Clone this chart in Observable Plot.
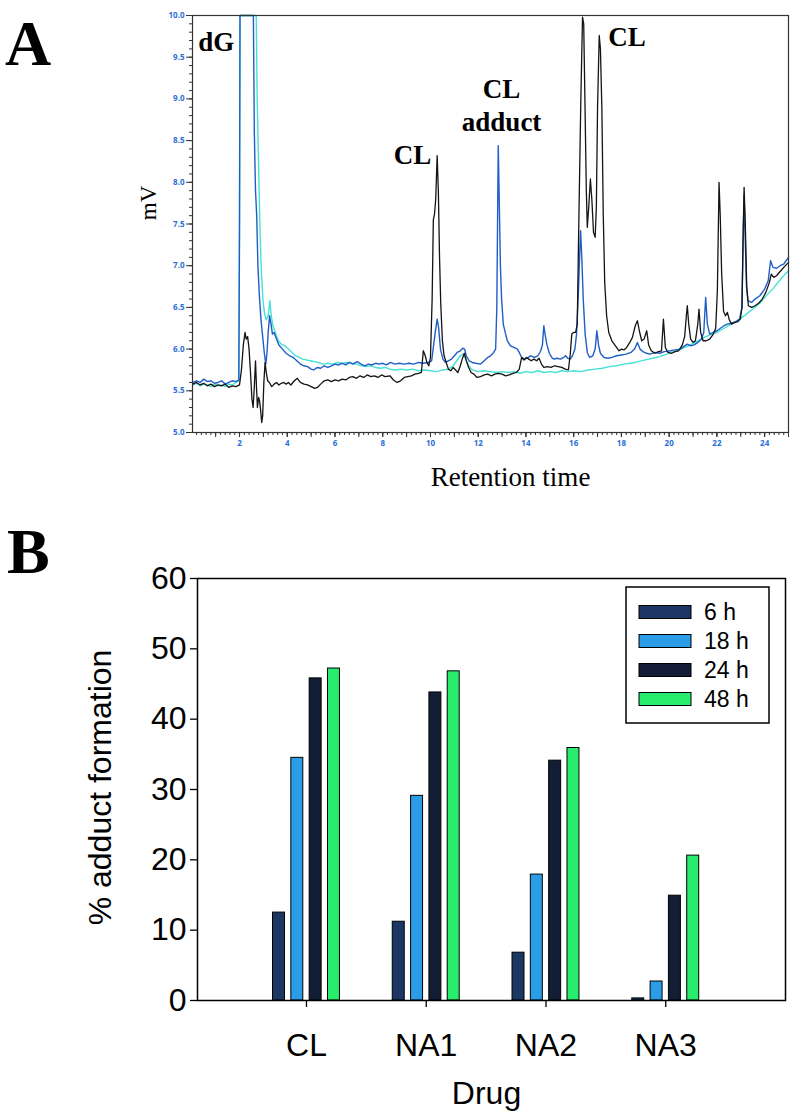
<!DOCTYPE html>
<html><head><meta charset="utf-8">
<script src="https://cdn.jsdelivr.net/npm/d3@7"></script>
<script src="https://cdn.jsdelivr.net/npm/@observablehq/plot@0.6"></script>
<style>
body{margin:0;background:#fff;width:796px;height:1114px;position:relative;overflow:hidden}
#a{position:absolute;left:0;top:0}
#b{position:absolute;left:0;top:500px}
#ov{position:absolute;left:0;top:0;pointer-events:none}
</style></head><body>
<div id="a"></div><div id="b"></div>
<script>
// ---------- Panel A: chromatogram traces [retention time (min), mV] ----------
const blackTrace = [[0.05,5.58],[0.2,5.6],[0.35,5.57],[0.5,5.59],[0.65,5.56],[0.8,5.58],[0.95,5.55],[1.1,5.57],[1.25,5.56],[1.4,5.58],[1.55,5.54],[1.7,5.56],[1.85,5.55],[2.0,5.57],
[2.08,5.75],[2.16,6.05],[2.23,6.2],[2.28,6.12],[2.34,6.15],[2.4,6.0],[2.46,5.72],[2.52,5.4],[2.57,5.3],[2.62,5.55],[2.67,5.86],[2.71,5.55],[2.75,5.3],[2.8,5.42],[2.84,5.38],[2.88,5.28],[2.93,5.12],[2.97,5.2],[3.02,5.6],[3.07,5.84],[3.12,5.72],[3.18,5.62],[3.25,5.6],[3.35,5.55],[3.45,5.58],[3.55,5.6],[3.65,5.57],[3.75,5.59],[3.85,5.6],[3.95,5.58],[4.05,5.6],[4.15,5.57],[4.3,5.62],[4.42,5.65],[4.55,5.6],[4.7,5.58],[4.85,5.57],[5.0,5.55],[5.15,5.53],[5.26,5.54],[5.4,5.58],[5.55,5.62],[5.7,5.63],[5.85,5.61],[6.0,5.63],[6.15,5.62],[6.3,5.64],[6.45,5.63],[6.6,5.66],[6.75,5.67],[6.9,5.65],[7.05,5.68],[7.2,5.66],[7.35,5.69],[7.5,5.67],[7.65,5.68],[7.8,5.66],[7.95,5.69],[8.1,5.67],[8.3,5.68],[8.45,5.63],[8.6,5.6],[8.75,5.62],[8.9,5.66],[9.05,5.67],[9.2,5.68],[9.35,5.7],[9.5,5.71],[9.62,5.72],[9.7,5.98],[9.78,5.92],[9.85,5.84],[9.93,5.8],[10.0,5.9],[10.07,6.6],[10.12,7.55],[10.17,7.62],[10.22,7.8],[10.28,8.32],[10.33,7.9],[10.38,7.1],[10.43,6.55],[10.5,6.1],[10.57,5.92],[10.65,5.85],[10.75,5.76],[10.85,5.74],[10.95,5.78],[11.05,5.75],[11.15,5.72],[11.25,5.8],[11.33,5.88],[11.42,5.95],[11.5,5.86],[11.6,5.78],[11.7,5.72],[11.82,5.7],[11.95,5.66],[12.1,5.67],[12.25,5.69],[12.4,5.7],[12.55,5.68],[12.7,5.7],[12.85,5.71],[13.0,5.7],[13.15,5.68],[13.3,5.69],[13.45,5.71],[13.6,5.72],[13.72,5.76],[13.82,5.9],[13.92,5.87],[14.02,5.9],[14.12,5.88],[14.22,5.86],[14.33,5.88],[14.45,5.86],[14.55,5.89],[14.65,5.82],[14.75,5.78],[14.9,5.79],[15.05,5.78],[15.2,5.8],[15.35,5.79],[15.5,5.78],[15.65,5.76],[15.78,5.75],[15.86,5.95],[15.92,6.18],[16.0,6.2],[16.08,6.2],[16.15,6.3],[16.22,7.6],[16.3,9.0],[16.37,9.98],[16.42,9.9],[16.47,9.0],[16.53,7.9],[16.57,7.46],[16.63,7.7],[16.7,8.04],[16.76,7.8],[16.83,7.4],[16.9,7.34],[16.95,7.7],[17.0,8.9],[17.07,9.76],[17.12,9.6],[17.18,8.9],[17.24,7.6],[17.3,6.8],[17.38,6.4],[17.47,6.2],[17.6,6.1],[17.75,6.04],[17.9,5.98],[18.0,6.0],[18.1,5.99],[18.22,6.02],[18.35,6.08],[18.46,6.14],[18.58,6.28],[18.67,6.34],[18.75,6.22],[18.85,6.1],[18.95,6.12],[19.06,6.22],[19.14,6.05],[19.25,5.98],[19.4,5.95],[19.55,5.97],[19.68,5.98],[19.76,6.36],[19.84,6.02],[19.95,5.96],[20.1,5.95],[20.25,5.97],[20.4,5.98],[20.55,6.05],[20.65,6.15],[20.72,6.4],[20.76,6.52],[20.82,6.3],[20.9,6.12],[21.0,6.08],[21.1,6.1],[21.2,6.3],[21.25,6.48],[21.32,6.2],[21.42,6.1],[21.55,6.1],[21.7,6.12],[21.85,6.18],[21.95,6.25],[22.02,6.7],[22.09,8.0],[22.14,7.6],[22.2,6.9],[22.28,6.45],[22.36,6.4],[22.44,6.44],[22.52,6.35],[22.62,6.3],[22.75,6.32],[22.88,6.33],[22.98,6.36],[23.05,6.5],[23.1,7.4],[23.14,7.94],[23.19,7.5],[23.25,6.75],[23.32,6.52],[23.45,6.5],[23.6,6.52],[23.75,6.55],[23.9,6.6],[24.05,6.68],[24.2,6.8],[24.28,6.9],[24.38,6.86],[24.5,6.88],[24.65,6.93],[24.8,6.98],[25.0,7.04]];

const blueTrace = [[0.05,5.6],[0.2,5.62],[0.35,5.6],[0.5,5.64],[0.65,5.61],[0.8,5.62],[0.95,5.59],[1.1,5.6],[1.25,5.62],[1.4,5.58],[1.55,5.6],[1.7,5.62],[1.85,5.61],[1.97,5.63],[2.0,7.5],[2.02,10.0],[2.58,10.0],[2.62,8.6],[2.67,7.9],[2.72,7.6],[2.77,7.0],[2.83,6.65],[2.9,6.35],[2.97,6.15],[3.04,5.95],[3.1,5.82],[3.15,5.95],[3.2,6.2],[3.26,6.4],[3.32,6.3],[3.38,6.18],[3.45,6.2],[3.55,6.12],[3.65,6.05],[3.8,6.0],[3.95,5.95],[4.1,5.92],[4.25,5.9],[4.4,5.86],[4.55,5.82],[4.7,5.8],[4.85,5.79],[5.0,5.76],[5.11,5.75],[5.25,5.78],[5.4,5.77],[5.55,5.8],[5.7,5.78],[5.85,5.8],[6.0,5.82],[6.15,5.81],[6.3,5.83],[6.45,5.81],[6.6,5.84],[6.75,5.82],[6.93,5.85],[7.1,5.82],[7.25,5.8],[7.4,5.82],[7.55,5.81],[7.7,5.83],[7.85,5.82],[8.0,5.83],[8.15,5.81],[8.33,5.84],[8.5,5.82],[8.7,5.83],[8.9,5.82],[9.1,5.83],[9.3,5.82],[9.5,5.84],[9.7,5.83],[9.9,5.84],[10.05,5.86],[10.12,6.02],[10.2,6.2],[10.28,6.36],[10.34,6.26],[10.42,6.0],[10.52,5.88],[10.63,5.84],[10.75,5.86],[10.88,5.88],[11.0,5.92],[11.12,5.96],[11.25,5.98],[11.35,6.01],[11.43,6.0],[11.5,5.92],[11.62,5.86],[11.75,5.84],[11.9,5.83],[12.1,5.82],[12.25,5.86],[12.4,5.9],[12.52,5.92],[12.65,5.96],[12.73,6.0],[12.78,6.5],[12.81,7.5],[12.84,8.44],[12.88,7.8],[12.93,7.0],[12.98,6.6],[13.05,6.3],[13.15,6.18],[13.22,6.1],[13.35,6.04],[13.5,6.02],[13.64,6.0],[13.72,5.96],[13.82,5.9],[13.95,5.88],[14.1,5.9],[14.2,5.92],[14.35,5.9],[14.5,5.92],[14.62,5.98],[14.69,6.05],[14.75,6.28],[14.8,6.18],[14.88,6.05],[14.98,5.95],[15.08,5.9],[15.17,5.88],[15.3,5.89],[15.45,5.88],[15.58,5.9],[15.66,5.92],[15.75,5.89],[15.85,5.88],[15.95,5.92],[16.05,6.0],[16.12,6.18],[16.2,6.7],[16.26,7.2],[16.29,7.42],[16.34,7.1],[16.4,6.6],[16.48,6.18],[16.57,5.96],[16.67,5.9],[16.8,5.92],[16.9,6.0],[16.97,6.22],[17.04,6.05],[17.12,5.95],[17.27,5.9],[17.45,5.89],[17.6,5.9],[17.8,5.92],[18.0,5.93],[18.2,5.94],[18.4,5.96],[18.55,6.0],[18.67,6.08],[18.78,6.0],[18.9,5.97],[19.05,5.95],[19.2,5.94],[19.4,5.96],[19.6,5.95],[19.8,5.97],[20.06,5.98],[20.25,5.99],[20.45,6.0],[20.6,6.03],[20.76,6.06],[20.9,6.04],[21.05,6.05],[21.2,6.08],[21.35,6.12],[21.45,6.2],[21.53,6.62],[21.6,6.3],[21.7,6.18],[21.85,6.2],[22.0,6.22],[22.15,6.25],[22.3,6.28],[22.44,6.3],[22.6,6.31],[22.8,6.33],[22.95,6.36],[23.05,6.5],[23.1,7.3],[23.14,7.85],[23.18,7.4],[23.24,6.75],[23.3,6.58],[23.45,6.56],[23.6,6.6],[23.8,6.64],[24.0,6.72],[24.15,6.82],[24.25,7.06],[24.35,6.98],[24.5,6.97],[24.65,7.0],[24.8,7.02],[25.0,7.1]];

const cyanTrace = [[0.05,5.57],[0.2,5.59],[0.35,5.56],[0.5,5.58],[0.65,5.57],[0.8,5.55],[0.95,5.58],[1.1,5.56],[1.25,5.57],[1.4,5.55],[1.55,5.58],[1.7,5.57],[1.85,5.6],[1.97,5.62],[2.0,7.5],[2.02,10.0],[2.7,10.0],[2.74,9.0],[2.8,8.2],[2.86,7.4],[2.92,6.9],[2.98,6.6],[3.05,6.42],[3.12,6.35],[3.2,6.4],[3.27,6.58],[3.33,6.4],[3.4,6.28],[3.5,6.2],[3.62,6.1],[3.75,6.06],[3.9,6.04],[4.05,6.0],[4.2,5.96],[4.35,5.92],[4.5,5.9],[4.65,5.88],[4.8,5.87],[4.97,5.86],[5.15,5.85],[5.3,5.84],[5.5,5.82],[5.7,5.83],[5.9,5.82],[6.1,5.84],[6.3,5.83],[6.5,5.84],[6.7,5.83],[6.9,5.82],[7.1,5.8],[7.3,5.79],[7.5,5.8],[7.7,5.78],[7.9,5.77],[8.1,5.78],[8.3,5.76],[8.5,5.75],[8.75,5.76],[9.0,5.75],[9.25,5.76],[9.5,5.74],[9.75,5.75],[10.0,5.74],[10.25,5.73],[10.5,5.75],[10.75,5.76],[10.95,5.8],[11.1,5.86],[11.25,5.92],[11.35,5.94],[11.45,5.9],[11.6,5.8],[11.75,5.75],[12.0,5.73],[12.25,5.74],[12.5,5.73],[12.75,5.72],[13.0,5.73],[13.25,5.72],[13.5,5.73],[13.75,5.71],[14.0,5.73],[14.25,5.72],[14.5,5.74],[14.75,5.72],[15.0,5.73],[15.25,5.72],[15.5,5.74],[15.75,5.73],[16.0,5.74],[16.3,5.73],[16.6,5.75],[16.9,5.76],[17.2,5.77],[17.5,5.79],[17.8,5.8],[18.1,5.82],[18.4,5.83],[18.7,5.85],[19.0,5.87],[19.3,5.89],[19.6,5.91],[19.9,5.94],[20.2,5.97],[20.5,6.0],[20.8,6.04],[21.1,6.08],[21.4,6.13],[21.7,6.17],[22.0,6.2],[22.3,6.25],[22.6,6.3],[22.9,6.35],[23.2,6.41],[23.5,6.48],[23.8,6.55],[24.1,6.65],[24.4,6.74],[24.7,6.85],[25.0,6.94]];

const peakLabels = [
  {t: 1.03, y: 9.58, text: "dG"},
  {t: 9.25, y: 8.225, text: "CL"},
  {t: 12.98, y: 8.61, text: "CL\nadduct"},
  {t: 18.23, y: 9.63, text: "CL"}
];
const yTickLabelsA = [5.0, 5.5, 6.0, 6.5, 7.0, 7.5, 8.0, 8.5, 9.0, 9.5, 10.0];
const xTickLabelsA = [2, 4, 6, 8, 10, 12, 14, 16, 18, 20, 22, 24];

// ---------- Panel B: % adduct formation ----------
const drugs = ["CL", "NA1", "NA2", "NA3"];
const times = ["6 h", "18 h", "24 h", "48 h"];
const v6h  = [12.5, 11.2, 6.8, 0.3];
const v18h = [34.5, 29.1, 17.9, 2.7];
const v24h = [45.8, 43.8, 34.1, 14.9];
const v48h = [47.2, 46.8, 35.9, 20.6];
const yTickLabelsB = [0, 10, 20, 30, 40, 50, 60];
const barColors = ["#1c3763", "#2b9de6", "#131d36", "#27ec6c"];

const serif = "'Liberation Serif','Times New Roman',serif";
const sans = "'Liberation Sans',Arial,sans-serif";
const tickBlue = "#2a6fd6";
const xy = {x: d => d[0], y: d => d[1]};

const plotA = Plot.plot({
  width: 796, height: 500,
  marginTop: 15, marginBottom: 68, marginLeft: 192, marginRight: 8,
  x: {domain: [0.03, 25.0]},
  y: {domain: [5, 10]},
  style: {background: "transparent", overflow: "visible"},
  marks: [
    Plot.line(cyanTrace, {...xy, stroke: "#45e2d4", strokeWidth: 1.4}),
    Plot.line(blueTrace, {...xy, stroke: "#1f5ec8", strokeWidth: 1.4}),
    Plot.line(blackTrace, {...xy, stroke: "#141414", strokeWidth: 1.3}),
    Plot.frame({stroke: "#333", strokeWidth: 1.2}),
    Plot.axisY({ticks: d3.range(50, 101).map(v => v / 10), tickSize: 3, text: null, stroke: "#333", label: null}),
    Plot.axisY({ticks: yTickLabelsA, tickSize: 6, tickPadding: 2, tickFormat: d => d.toFixed(1), fontSize: 8, fontWeight: "bold", fill: tickBlue, stroke: "#333", label: null}),
    Plot.axisX({ticks: d3.range(1, 126).map(v => v / 5), tickSize: 3, text: null, stroke: "#333", label: null}),
    Plot.axisX({ticks: d3.range(1, 26), tickSize: 5, text: null, stroke: "#333", label: null}),
    Plot.axisX({ticks: xTickLabelsA, tickSize: 5, tickPadding: 3, fontSize: 8, fontWeight: "bold", fill: tickBlue, stroke: "#333", label: null}),
    Plot.text(peakLabels, {x: "t", y: "y", text: "text", textAnchor: "middle", lineAnchor: "bottom", lineHeight: 1.22, fontSize: 27, fontWeight: "bold", fontFamily: serif, fill: "#000"}),
    Plot.text(["mV"], {frameAnchor: "left", textAnchor: "middle", dx: -44, dy: -21, rotate: -90, fontSize: 23, fontFamily: serif, fill: "#000"}),
    Plot.text(["Retention time"], {frameAnchor: "bottom", textAnchor: "middle", dx: 20, dy: 45, fontSize: 27, fontFamily: serif, fill: "#000", lineAnchor: "middle"})
  ]
});
document.getElementById("a").append(plotA);

const series = [v6h, v18h, v24h, v48h];
const rows = [];
drugs.forEach((dname, i) => series.forEach((s, j) => rows.push({drug: dname, di: i + 1, time: times[j], tj: j, value: s[i]})));
const barStep = 0.153, barW = 0.1;

const plotB = Plot.plot({
  width: 796, height: 614,
  marginTop: 78, marginBottom: 114, marginLeft: 197, marginRight: 11,
  x: {type: "linear", domain: [0.09, 5.0]},
  y: {domain: [0, 60]},
  color: {domain: times, range: barColors},
  style: {background: "transparent", overflow: "visible"},
  marks: [
    Plot.rect(rows, {
      x1: d => d.di + (d.tj - 1.5) * barStep - barW / 2,
      x2: d => d.di + (d.tj - 1.5) * barStep + barW / 2,
      y1: 0, y2: "value", fill: "time", stroke: "#000", strokeWidth: 1
    }),
    Plot.frame({stroke: "#000", strokeWidth: 1.5}),
    Plot.axisY({ticks: yTickLabelsB, tickSize: 7, tickPadding: 4, fontSize: 32, fontFamily: sans, fill: "#000", stroke: "#000", strokeWidth: 1.3, label: null}),
    Plot.axisX({ticks: [1, 2, 3, 4], tickFormat: d => drugs[d - 1], tickSize: 7, tickPadding: 26, fontSize: 32, fontFamily: sans, fill: "#000", stroke: "#000", strokeWidth: 1.3, label: null}),
    Plot.text(["% adduct formation"], {frameAnchor: "left", textAnchor: "middle", dx: -97, dy: -2, rotate: -90, fontSize: 32, fontFamily: sans, fill: "#000"}),
    Plot.text(["Drug"], {frameAnchor: "bottom", textAnchor: "middle", dx: -5, dy: 93, fontSize: 32, fontFamily: sans, fill: "#000", lineAnchor: "middle"})
  ]
});
document.getElementById("b").append(plotB);

// Overlay: panel letters and legend for panel B
const ov = d3.select("body").append("svg").attr("id", "ov").attr("width", 796).attr("height", 1114);
ov.append("text").attr("x", 5).attr("y", 65).attr("font-family", serif).attr("font-weight", "bold").attr("font-size", 64).text("A");
ov.append("text").attr("x", 7).attr("y", 573).attr("font-family", serif).attr("font-weight", "bold").attr("font-size", 64).text("B");
const leg = ov.append("g");
leg.append("rect").attr("x", 626).attr("y", 587).attr("width", 143).attr("height", 136).attr("fill", "#fff").attr("stroke", "#000").attr("stroke-width", 1.5);
times.forEach((t, j) => {
  const cy = 612 + j * 29;
  leg.append("rect").attr("x", 639).attr("y", cy - 6.5).attr("width", 52).attr("height", 13).attr("fill", barColors[j]).attr("stroke", "#000").attr("stroke-width", 1);
  leg.append("text").attr("x", 704).attr("y", cy).attr("dy", "0.36em").attr("font-family", sans).attr("font-size", 23).text(t);
});
</script>
</body></html>
